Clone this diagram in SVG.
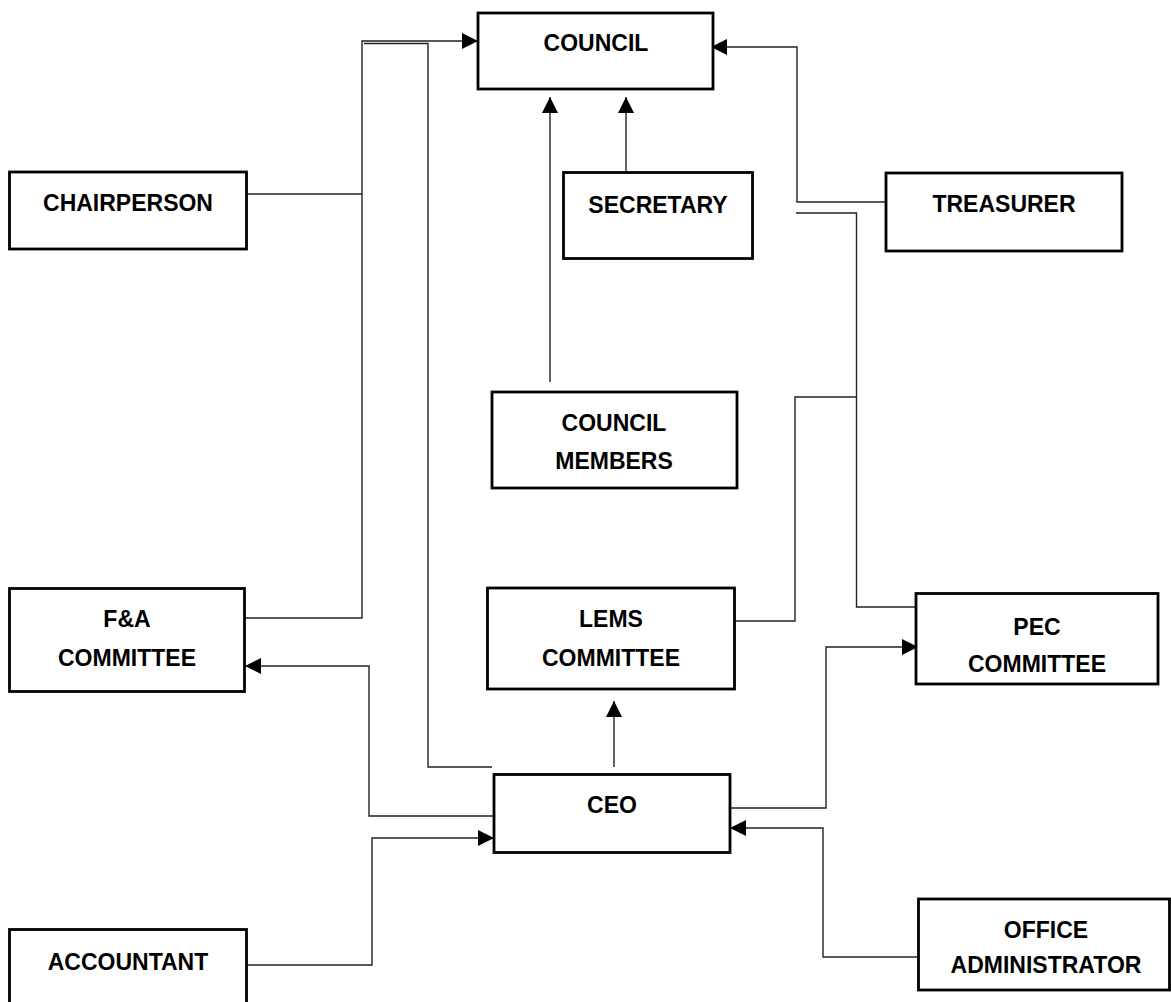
<svg xmlns="http://www.w3.org/2000/svg" width="1171" height="1002" viewBox="0 0 1171 1002">
<style>
.box{fill:#fff;stroke:#000;stroke-width:2.8}
.lbl{font-family:"Liberation Sans",Arial,sans-serif;font-weight:bold;font-size:23px;text-anchor:middle;fill:#000}
.con{fill:none;stroke:#222;stroke-width:1.4}
</style>
<defs>
<marker id="ah" viewBox="0 0 16 16" markerWidth="16" markerHeight="16" markerUnits="userSpaceOnUse" refX="16" refY="8" orient="auto">
<path d="M0,0 L16,8 L0,16 Z" fill="#000"/>
</marker>
</defs>
<rect width="1171" height="1002" fill="#fff"/>
<g id="connectors">
<path class="con" d="M245,618 H362 V41 H478" marker-end="url(#ah)"/>
<path class="con" d="M247,194 H362"/>
<path class="con" d="M492,767 H428 V43.5 H364"/>
<path class="con" d="M550,382 V97" marker-end="url(#ah)"/>
<path class="con" d="M626,172 V97" marker-end="url(#ah)"/>
<path class="con" d="M886,202 H797 V47 H711" marker-end="url(#ah)"/>
<path class="con" d="M796,213 H856.5 V607 H916"/>
<path class="con" d="M735,621 H795 V397 H856.5"/>
<path class="con" d="M614,767 V701" marker-end="url(#ah)"/>
<path class="con" d="M730,808 H826 V647 H918" marker-end="url(#ah)"/>
<path class="con" d="M494,816 H369 V666 H245" marker-end="url(#ah)"/>
<path class="con" d="M247,965 H372 V838 H494" marker-end="url(#ah)"/>
<path class="con" d="M918,957 H823 V828 H730" marker-end="url(#ah)"/>
</g>
<g id="council"><rect class="box" x="478" y="13" width="235" height="76"/><text class="lbl" x="596" y="51">COUNCIL</text></g>
<g id="chairperson"><rect class="box" x="9.5" y="172" width="237" height="77"/><text class="lbl" x="128" y="211">CHAIRPERSON</text></g>
<g id="secretary"><rect class="box" x="563.5" y="172.5" width="189" height="86"/><text class="lbl" x="658" y="213">SECRETARY</text></g>
<g id="treasurer"><rect class="box" x="886" y="173" width="236" height="78"/><text class="lbl" x="1004" y="212">TREASURER</text></g>
<g id="council-members"><rect class="box" x="492" y="392" width="245" height="96"/><text class="lbl" x="614" y="431">COUNCIL</text><text class="lbl" x="614" y="469">MEMBERS</text></g>
<g id="fa-committee"><rect class="box" x="9.5" y="588.5" width="235" height="103"/><text class="lbl" x="127" y="627">F&amp;A</text><text class="lbl" x="127" y="666">COMMITTEE</text></g>
<g id="lems-committee"><rect class="box" x="487.5" y="588" width="247" height="101"/><text class="lbl" x="611" y="627">LEMS</text><text class="lbl" x="611" y="666">COMMITTEE</text></g>
<g id="pec-committee"><rect class="box" x="916" y="593.5" width="242" height="90.5"/><text class="lbl" x="1037" y="635">PEC</text><text class="lbl" x="1037" y="672">COMMITTEE</text></g>
<g id="ceo"><rect class="box" x="494" y="774.5" width="236" height="78"/><text class="lbl" x="612" y="813">CEO</text></g>
<g id="accountant"><rect class="box" x="9.5" y="929.5" width="237" height="85"/><text class="lbl" x="128" y="970">ACCOUNTANT</text></g>
<g id="office-administrator"><rect class="box" x="918.5" y="899" width="251" height="91"/><text class="lbl" x="1046" y="938">OFFICE</text><text class="lbl" x="1046" y="973">ADMINISTRATOR</text></g>
</svg>
